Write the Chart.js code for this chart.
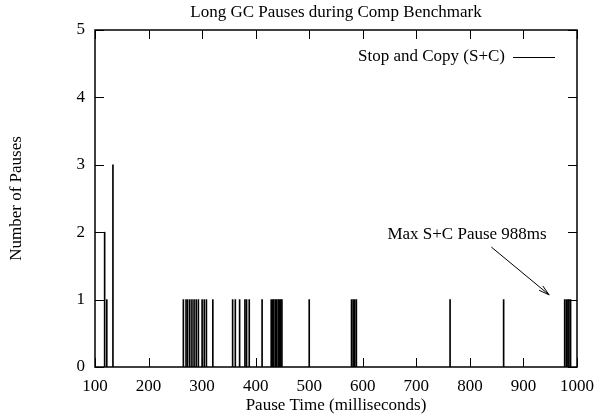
<!DOCTYPE html>
<html>
<head>
<meta charset="utf-8">
<script src="https://cdn.jsdelivr.net/npm/chart.js@4.4.1/dist/chart.umd.min.js"></script>
<style>
  html, body { margin: 0; padding: 0; background: #fff; }
  #wrap { width: 595px; height: 416px; }
</style>
</head>
<body>
<div id="wrap"><canvas id="gcChart" width="595" height="416"></canvas></div>
<script>
// pause lengths (ms) and how many pauses of that length
const pauseTimes = [118, 122, 133.5,
  265, 270, 273, 277, 281, 285, 289, 293, 300, 304, 308, 320,
  357, 362, 370, 380, 383, 388,
  412, 429, 432, 434, 437, 439, 442, 444, 447, 449,
  500, 579, 582, 585, 588, 763, 863,
  977, 980, 983, 985, 988];
const pauseCounts = [2, 1, 3,
  1, 1, 1, 1, 1, 1, 1, 1, 1, 1, 1, 1,
  1, 1, 1, 1, 1, 1,
  1, 1, 1, 1, 1, 1, 1, 1, 1, 1,
  1, 1, 1, 1, 1, 1, 1,
  1, 1, 1, 1, 1];
const xTicks = [100, 200, 300, 400, 500, 600, 700, 800, 900, 1000];
const yTicks = [0, 1, 2, 3, 4, 5];

const chartTitle = "Long GC Pauses during Comp Benchmark";
const seriesName = "Stop and Copy (S+C)";
const noteText = "Max S+C Pause 988ms";
const notePos = [646, 1.97];
const arrowFrom = [840, 1.78];
const arrowTo = [948, 1.07];

const FONT = "'Liberation Serif', 'Times New Roman', serif";

// gnuplot look: frame, inward ticks on all four sides, title, key and arrow label
const gnuplotBits = {
  id: "gnuplotBits",
  afterDatasetsDraw(chart) {
    const { ctx, chartArea: a, scales: { x, y } } = chart;
    const tl = 9;
    ctx.save();
    ctx.strokeStyle = "#000";
    ctx.lineWidth = 1;
    ctx.beginPath();
    xTicks.forEach(v => {
      const px = Math.round(x.getPixelForValue(v)) + 0.5;
      ctx.moveTo(px, a.bottom); ctx.lineTo(px, a.bottom - tl);
      ctx.moveTo(px, a.top); ctx.lineTo(px, a.top + tl);
    });
    yTicks.forEach(v => {
      const py = Math.round(y.getPixelForValue(v)) + 0.5;
      ctx.moveTo(a.left, py); ctx.lineTo(a.left + tl, py);
      ctx.moveTo(a.right, py); ctx.lineTo(a.right - tl, py);
    });
    ctx.stroke();

    ctx.lineWidth = 1.5;
    ctx.strokeRect(a.left, a.top, a.right - a.left, a.bottom - a.top);

    ctx.font = "17px " + FONT;
    ctx.fillStyle = "#000";
    ctx.textBaseline = "middle";

    // title, centred over the plot
    ctx.textAlign = "center";
    ctx.fillText(chartTitle, (a.left + a.right) / 2, 13);

    // key
    ctx.textAlign = "right";
    const ky = a.top + 27;
    ctx.fillText(seriesName, a.right - 72, ky);
    ctx.lineWidth = 1;
    ctx.beginPath();
    ctx.moveTo(a.right - 64, ky + 0.5);
    ctx.lineTo(a.right - 22, ky + 0.5);
    ctx.stroke();

    // label + arrow
    ctx.textAlign = "left";
    ctx.fillText(noteText, x.getPixelForValue(notePos[0]), y.getPixelForValue(notePos[1]));
    const x0 = x.getPixelForValue(arrowFrom[0]), y0 = y.getPixelForValue(arrowFrom[1]);
    const x1 = x.getPixelForValue(arrowTo[0]), y1 = y.getPixelForValue(arrowTo[1]);
    const ang = Math.atan2(y1 - y0, x1 - x0);
    const hl = 11, hw = Math.PI / 12;
    ctx.beginPath();
    ctx.moveTo(x0, y0); ctx.lineTo(x1, y1);
    ctx.moveTo(x1 - hl * Math.cos(ang - hw), y1 - hl * Math.sin(ang - hw));
    ctx.lineTo(x1, y1);
    ctx.lineTo(x1 - hl * Math.cos(ang + hw), y1 - hl * Math.sin(ang + hw));
    ctx.stroke();
    ctx.restore();
  }
};

const ctx = document.getElementById("gcChart");

new Chart(ctx, {
  type: "bar",
  data: {
    datasets: [
      {
        label: seriesName,
        data: pauseTimes.map((t, i) => ({ x: t, y: pauseCounts[i] })),
        backgroundColor: "#000",
        borderWidth: 0,
        barThickness: 1,
      },
    ],
  },
  options: {
    responsive: false,
    animation: false,
    layout: { padding: { left: 0, right: 0, top: 30, bottom: 0 } },
    plugins: {
      legend: { display: false },
      tooltip: { enabled: false },
      title: { display: false },
    },
    scales: {
      x: {
        type: "linear",
        min: 100,
        max: 1000,
        offset: false,
        grid: { display: false, drawTicks: false },
        border: { display: false },
        ticks: {
          stepSize: 100,
          padding: 9,
          color: "#000",
          maxRotation: 0,
          font: { family: FONT, size: 17 },
          callback: (v) => String(v),
        },
        title: {
          display: true,
          text: "Pause Time (milliseconds)",
          color: "#000",
          font: { family: FONT, size: 17 },
          padding: { top: 0, bottom: 0 },
        },
        afterFit: (scale) => {
          scale.height = 49;
          scale.paddingLeft = 0;
          scale.paddingRight = 18;
        },
      },
      y: {
        min: 0,
        max: 5,
        grid: { display: false, drawTicks: false },
        border: { display: false },
        ticks: {
          stepSize: 1,
          padding: 10,
          color: "#000",
          font: { family: FONT, size: 17 },
        },
        title: {
          display: true,
          text: "Number of Pauses",
          color: "#000",
          font: { family: FONT, size: 17 },
          padding: { top: 6, bottom: 0 },
        },
        afterFit: (scale) => {
          scale.width = 95;
          scale.paddingTop = 0;
          scale.paddingBottom = 0;
        },
      },
    },
  },
  plugins: [gnuplotBits],
});
</script>
</body>
</html>
